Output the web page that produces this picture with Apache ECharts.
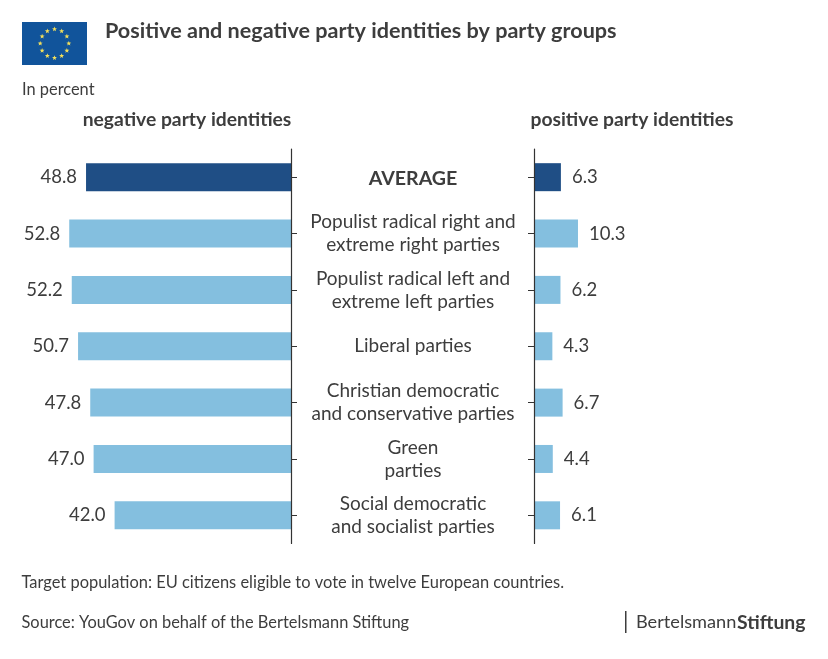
<!DOCTYPE html>
<html>
<head>
<meta charset="utf-8">
<script src="https://cdn.jsdelivr.net/npm/echarts@6/dist/echarts.min.js"></script>
<style>
html,body{margin:0;padding:0;background:#fff;}
#chart{width:828px;height:659px;}
</style>
</head>
<body>
<div id="chart"></div>
<script>
var categories = [
    'AVERAGE',
    'Populist radical right and\nextreme right parties',
    'Populist radical left and\nextreme left parties',
    'Liberal parties',
    'Christian democratic\nand conservative parties',
    'Green\nparties',
    'Social democratic\nand socialist parties'
];
var negativeValues = [48.8, 52.8, 52.2, 50.7, 47.8, 47.0, 42.0];
var positiveValues = [6.3, 10.3, 6.2, 4.3, 6.7, 4.4, 6.1];

var FONT = 'Lato';
var TEXT = '#3d3d3d';
var DARK = '#1f4e85';
var LIGHT = '#84bfdf';

var chart = echarts.init(document.getElementById('chart'));

// average gets the dark bar, the rest the light one
function barData(values) {
    return values.map(function (v, i) {
        return {value: v, itemStyle: {color: i === 0 ? DARK : LIGHT}};
    });
}

function oneDecimal(p) {
    return p.value.toFixed(1);
}

// stars of the flag, only decoration
function flagStars() {
    var stars = [];
    for (var i = 0; i < 12; i++) {
        var a = i * Math.PI / 6;
        stars.push({
            type: 'polygon',
            x: 54.5 + 14.3 * Math.sin(a),
            y: 43.5 - 14.3 * Math.cos(a),
            shape: {points: starPoints(2.6)},
            style: {fill: '#f5e05a'}
        });
    }
    return stars;
}

function starPoints(r) {
    var pts = [];
    for (var i = 0; i < 10; i++) {
        var rr = i % 2 ? r * 0.42 : r;
        var a = i * Math.PI / 5;
        pts.push([rr * Math.sin(a), -rr * Math.cos(a)]);
    }
    return pts;
}

function label(x, y, text, size, weight, align) {
    return {
        type: 'text', x: x, y: y,
        style: {
            text: text, fill: TEXT, font: (weight || 400) + ' ' + size + 'px ' + FONT,
            textAlign: align || 'left', textVerticalAlign: 'middle'
        }
    };
}

var graphics = [
    {type: 'rect', shape: {x: 22, y: 22, width: 65, height: 43}, style: {fill: '#11549b'}},
    label(105, 31, 'Positive and negative party identities by party groups', 21.6, 700),
    label(22, 90, 'In percent', 16.4),
    label(187, 119.5, 'negative party identities', 19.3, 700, 'center'),
    label(632, 119.5, 'positive party identities', 19.3, 700, 'center'),
    label(21.5, 583, 'Target population: EU citizens eligible to vote in twelve European countries.', 16.45),
    label(21.5, 623, 'Source: YouGov on behalf of the Bertelsmann Stiftung', 16.4),
    {type: 'rect', shape: {x: 625, y: 611, width: 1.5, height: 22}, style: {fill: '#3d3d3d'}},
    label(636, 622.5, 'Bertelsmann', 18.2),
    label(737, 622.5, 'Stiftung', 19.4, 700)
].concat(flagStars());

chart.setOption({
    backgroundColor: '#fff',
    animation: false,
    textStyle: {fontFamily: FONT},
    graphic: graphics,
    grid: [
        {left: 39, top: 149, width: 252, height: 394.5},
        {left: 534, top: 149, width: 85.4, height: 394.5}
    ],
    xAxis: [
        {gridIndex: 0, type: 'value', min: 0, max: 60, inverse: true, show: false},
        {gridIndex: 1, type: 'value', min: 0, max: 20, show: false}
    ],
    yAxis: [
        {
            gridIndex: 0, type: 'category', data: categories, inverse: true, position: 'right',
            z: 5,
            axisLine: {show: true, lineStyle: {color: '#333', width: 1.2}},
            axisTick: {show: true, alignWithLabel: true, length: 6, lineStyle: {color: '#333', width: 1}},
            axisLabel: {
                interval: 0, margin: 122, align: 'center', color: TEXT, fontFamily: FONT,
                fontSize: 19, lineHeight: 23,
                formatter: function (v) {
                    return v === 'AVERAGE' ? '{avg|' + v + '}' : v;
                },
                rich: {avg: {fontFamily: FONT, fontWeight: 700, fontSize: 19.6, color: TEXT, padding: [2, 0, 0, 0]}}
            }
        },
        {
            gridIndex: 1, type: 'category', data: categories, inverse: true, position: 'left',
            z: 5,
            axisLine: {show: true, lineStyle: {color: '#333', width: 1.2}},
            axisTick: {show: true, alignWithLabel: true, length: 6, lineStyle: {color: '#333', width: 1}},
            axisLabel: {show: false}
        }
    ],
    series: [
        {
            type: 'bar', xAxisIndex: 0, yAxisIndex: 0, barWidth: 28,
            data: barData(negativeValues),
            label: {show: true, position: 'left', distance: 9, formatter: oneDecimal,
                color: TEXT, fontFamily: FONT, fontSize: 18.5}
        },
        {
            type: 'bar', xAxisIndex: 1, yAxisIndex: 1, barWidth: 28,
            data: barData(positiveValues),
            label: {show: true, position: 'right', distance: 11, formatter: oneDecimal,
                color: TEXT, fontFamily: FONT, fontSize: 18.5}
        }
    ]
});
</script>
</body>
</html>
